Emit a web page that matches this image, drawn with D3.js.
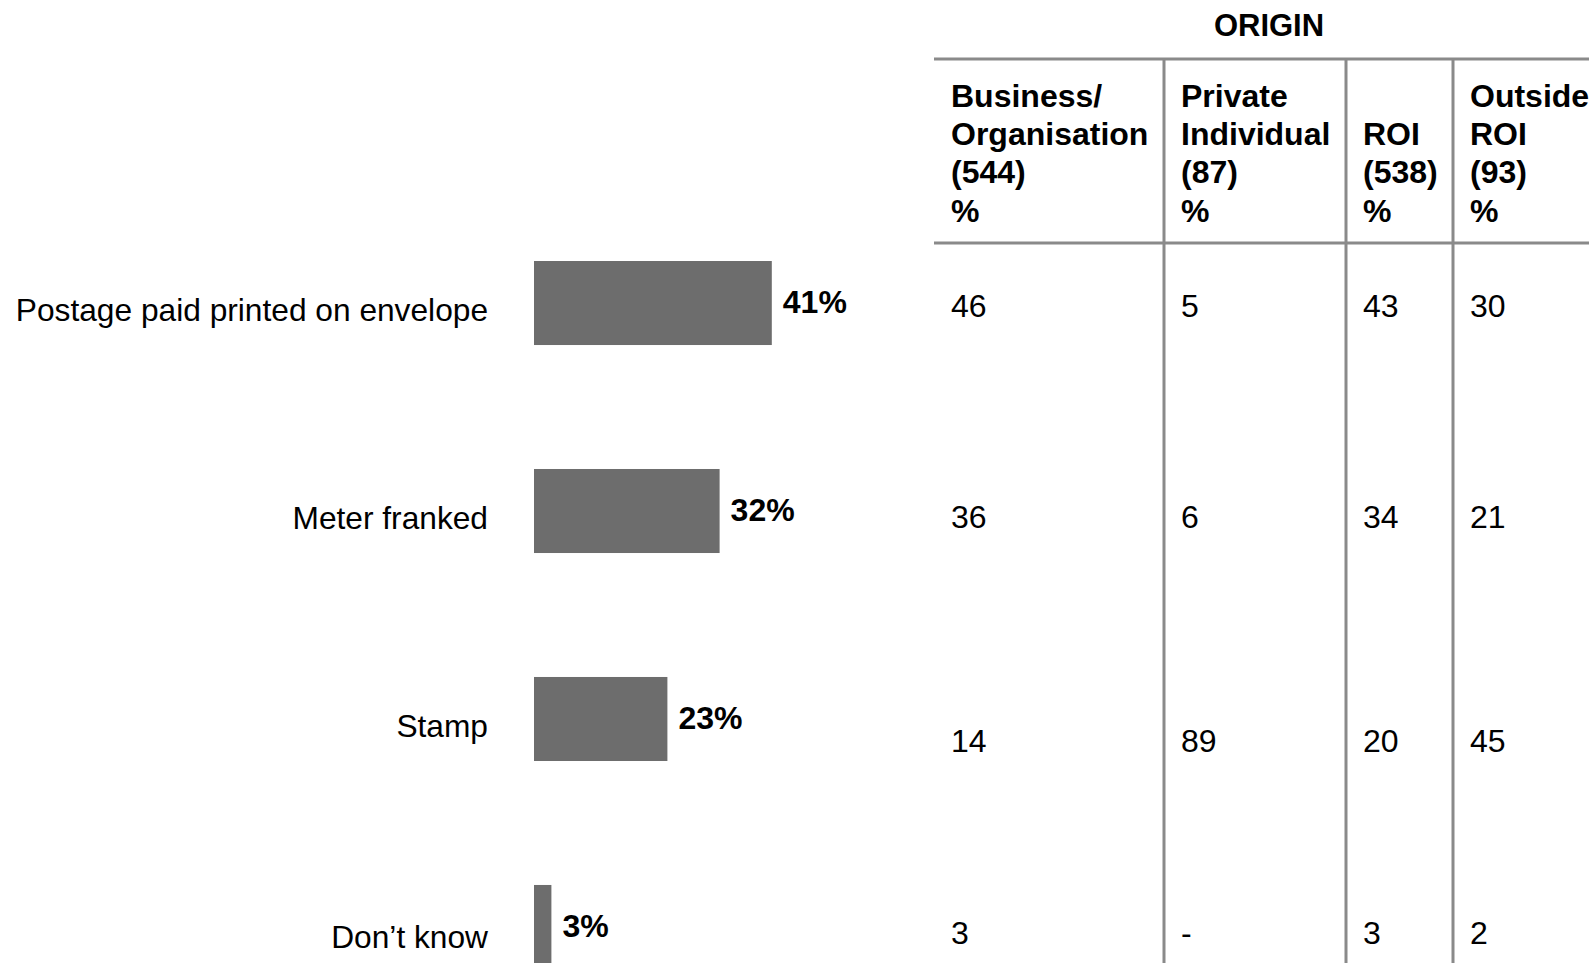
<!DOCTYPE html>
<html>
<head>
  <meta charset="utf-8">
  <title>Postage type by origin</title>
  <script src="https://d3js.org/d3.v7.min.js"></script>
  <style>
    body { margin: 0; background: #fff; }
    text { font-family: "Liberation Sans", Arial, sans-serif; }
  </style>
</head>
<body>
  <script>
    // Data
    let categories = ["Postage paid printed on envelope", "Meter franked", "Stamp", "Don\u2019t know"];
    let totals = [41, 32, 23, 3];

    let columnHeaders = [
      ["Business/", "Organisation", "(544)", "%"],
      ["Private", "Individual", "(87)", "%"],
      ["ROI", "(538)", "%"],
      ["Outside", "ROI", "(93)", "%"]
    ];
    let business = ["46", "36", "14", "3"];
    let privateInd = ["5", "6", "89", "-"];
    let roi = ["43", "34", "20", "3"];
    let outsideRoi = ["30", "21", "45", "2"];
    let tableTitle = "ORIGIN";

    // Layout
    let width = 1589, height = 963;
    let columnEdges = [934, 1164, 1346, 1453, 1620];
    let tableTop = 59, headerBottom = 243;
    let tableRowY = [306, 517, 741, 933];
    let lineColor = "#8a8a8a";

    let svg = d3.select("body")
                .append("svg")
                .attr("width", width)
                .attr("height", height);

    // Scales for the bar chart
    let x = d3.scaleLinear()
              .domain([0, 100])
              .range([534, 534 + 580]);

    let y = d3.scaleBand()
              .domain(categories)
              .range([261, 969])
              .paddingInner(0.596)
              .paddingOuter(0);

    let data = categories.map(function(c, i) { return {cat: c, value: totals[i]}; });

    // Bars
    svg.selectAll("rect.bar")
       .data(data)
       .enter()
       .append("rect")
       .attr("class", "bar")
       .attr("x", x(0))
       .attr("y", function(d) { return y(d.cat); })
       .attr("width", function(d) { return x(d.value) - x(0); })
       .attr("height", y.bandwidth())
       .attr("fill", "#6d6d6d");

    // Category labels
    svg.selectAll("text.cat")
       .data(data)
       .enter()
       .append("text")
       .attr("class", "cat")
       .attr("x", 488)
       .attr("y", function(d, i) { return y(d.cat) + y.bandwidth() / 2 + (i === 3 ? 10 : 7); })
       .attr("text-anchor", "end")
       .attr("dominant-baseline", "central")
       .attr("font-size", 31.7)
       .attr("fill", "#000")
       .text(function(d) { return d.cat; });

    // Value labels
    svg.selectAll("text.val")
       .data(data)
       .enter()
       .append("text")
       .attr("class", "val")
       .attr("x", function(d) { return x(d.value) + 11; })
       .attr("y", function(d) { return y(d.cat) + y.bandwidth() / 2 - 1; })
       .attr("dominant-baseline", "central")
       .attr("font-size", 32)
       .attr("font-weight", "bold")
       .attr("fill", "#000")
       .text(function(d) { return d.value + "%"; });

    // Table
    let rowY = d3.scaleOrdinal().domain(categories).range(tableRowY);
    let columns = [business, privateInd, roi, outsideRoi];

    svg.append("text")
       .attr("x", 1269)
       .attr("y", 25)
       .attr("text-anchor", "middle")
       .attr("dominant-baseline", "central")
       .attr("font-size", 31)
       .attr("font-weight", "bold")
       .text(tableTitle);

    // horizontal rules
    [tableTop, headerBottom].forEach(function(ly) {
      svg.append("line")
         .attr("x1", columnEdges[0]).attr("x2", width)
         .attr("y1", ly).attr("y2", ly)
         .attr("stroke", lineColor)
         .attr("stroke-width", 3);
    });

    // vertical rules
    columnEdges.slice(1, 4).forEach(function(lx) {
      svg.append("line")
         .attr("x1", lx).attr("x2", lx)
         .attr("y1", tableTop).attr("y2", height)
         .attr("stroke", lineColor)
         .attr("stroke-width", 3);
    });

    // headers (bottom aligned)
    let headerLineY = [96, 134, 172, 211];
    columnHeaders.forEach(function(lines, ci) {
      let t = svg.append("text")
                 .attr("font-size", 32)
                 .attr("font-weight", "bold");
      let offset = headerLineY.length - lines.length;
      lines.forEach(function(line, li) {
        t.append("tspan")
         .attr("x", columnEdges[ci] + 17)
         .attr("y", headerLineY[li + offset])
         .attr("dominant-baseline", "central")
         .text(line);
      });
    });

    // table values
    columns.forEach(function(col, ci) {
      svg.selectAll("text.col" + ci)
         .data(col)
         .enter()
         .append("text")
         .attr("class", "col" + ci)
         .attr("x", columnEdges[ci] + 17)
         .attr("y", function(d, i) { return rowY(categories[i]); })
         .attr("dominant-baseline", "central")
         .attr("font-size", 32)
         .text(function(d) { return d; });
    });
  </script>
</body>
</html>
